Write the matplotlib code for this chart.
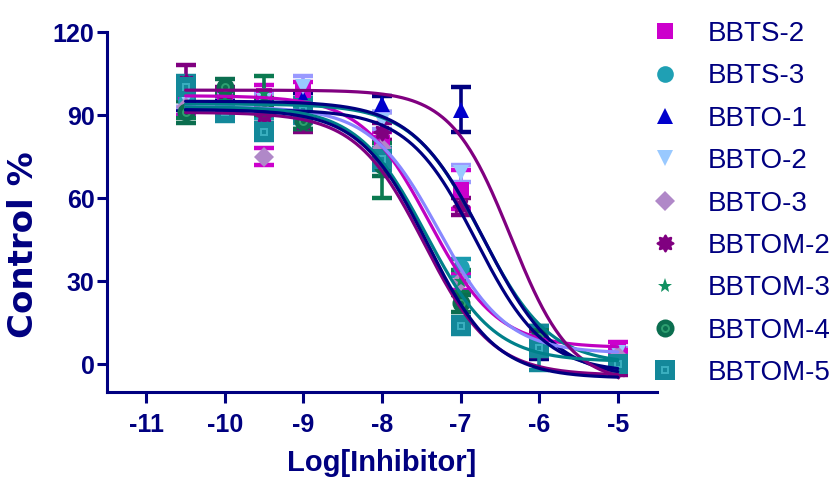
import numpy as np
import matplotlib
matplotlib.use("Agg")
import matplotlib.pyplot as plt
from matplotlib.path import Path
from matplotlib.lines import Line2D
from matplotlib.legend_handler import HandlerTuple

plt.rcParams['font.family'] = ['Liberation Sans', 'DejaVu Sans']

# ---------------- data ----------------
series = ['BBTS-2', 'BBTS-3', 'BBTO-1', 'BBTO-2', 'BBTO-3',
          'BBTOM-2', 'BBTOM-3', 'BBTOM-4', 'BBTOM-5']
log_conc = [-10.5, -10, -9.5, -9, -8, -7, -6, -5]

means = {
    'BBTS-2':  [98, 96, 97, 99, 80, 63, 8, 6],
    'BBTS-3':  [95, 93, 92, 90, 76, 35, 7, 1],
    'BBTO-1':  [94, 93, 94, 96, 94, 92, 5, 0],
    'BBTO-2':  [96, 95, 95, 100, 88, 69, 8, 4],
    'BBTO-3':  [93, 94, 75, 92, 78, 30, 6, 3],
    'BBTOM-2': [102, 97, 90, 87, 84, 57, 9, -2],
    'BBTOM-3': [92, 95, 98, 88, 70, 30, 8, 0],
    'BBTOM-4': [91, 100, 93, 88, 72, 22, 10, 0],
    'BBTOM-5': [100, 91, 84, 92, 74, 14, 6, 0],
}
sems = {
    'BBTS-2':  [3, 3, 4, 3, 4, 7, 3, 2],
    'BBTS-3':  [2, 2, 3, 3, 4, 3, 3, 2],
    'BBTO-1':  [2, 2, 2, 2, 3, 8, 3, 2],
    'BBTO-2':  [3, 3, 3, 4, 3, 3, 3, 2],
    'BBTO-3':  [3, 3, 3, 3, 3, 3, 3, 2],
    'BBTOM-2': [6, 3, 3, 3, 3, 3, 3, 2],
    'BBTOM-3': [3, 3, 6, 3, 10, 4, 5, 2],
    'BBTOM-4': [4, 3, 3, 3, 4, 3, 4, 2],
    'BBTOM-5': [4, 3, 3, 4, 4, 3, 8, 2],
}
# 4-parameter logistic fit parameters: top, bottom, logIC50, hill slope
fit_top     = [97, 94, 95, 93, 92, 99, 93, 91, 92]
fit_bottom  = [6, 0, -5, 4, -3, -7, 1, -4, -5]
fit_logic50 = [-7.40, -6.74, -6.70, -7.28, -6.80, -6.36, -7.44, -7.46, -7.42]
fit_hill    = [1.0, 1.0, 0.95, 1.0, 1.0, 1.14, 1.0, 1.0, 1.0]

y_ticks = [0, 30, 60, 90, 120]
x_ticks = [-11, -10, -9, -8, -7, -6, -5]

# ---------------- styles ----------------
navy = '#000080'
theta = np.linspace(0, 2 * np.pi, 161)
rr = 1 + 0.16 * np.cos(8 * theta)
flower = Path(np.column_stack([rr * np.cos(theta), rr * np.sin(theta)]))

marker_shape = ['s', 'o', '^', 'v', 'D', flower, '*', 'o', 's']
marker_size = [12, 12, 11, 12, 10, 13, 11, 13, 14]
marker_color = ['#CC00CC', '#1FA0B4', '#0000CC', '#99C9FF', '#B088C8',
                '#800080', '#109060', '#0B6E4F', '#13889A']
err_color = ['#CC00CC', '#1A9AAE', '#000080', '#9999FF', '#CC00CC',
             '#800080', '#0B7A50', '#0B6E4F', '#13889A']
curve_color = ['#C000C0', '#00808A', '#000080', '#8888FF', '#000080',
               '#800080', '#00808A', '#800080', '#000080']
inner_color = {7: '#2EA070', 8: '#3BB0C0'}

fig = plt.figure(figsize=(8.38, 4.78), dpi=100)
ax = fig.add_axes([107 / 838, 1 - 392 / 478, 550 / 838, 360 / 478])

xs = np.array(log_conc)
for i, name in enumerate(series):
    m = np.array(means[name], dtype=float)
    e = np.array(sems[name], dtype=float)
    ax.errorbar(xs, m, yerr=e, fmt='none', ecolor=err_color[i],
                elinewidth=2.6, capsize=7, capthick=3.2, zorder=2)
    ax.plot(xs, m, linestyle='none', marker=marker_shape[i],
            markersize=marker_size[i], color=marker_color[i],
            markeredgewidth=0, zorder=3)
    if i in inner_color:
        ax.plot(xs, m, linestyle='none', marker=marker_shape[i],
                markersize=5, markerfacecolor='none',
                markeredgecolor=inner_color[i], markeredgewidth=1.4, zorder=3)

xf = np.linspace(-10.5, -5, 300)
for i, name in enumerate(series):
    yf = fit_bottom[i] + (fit_top[i] - fit_bottom[i]) / (
        1 + 10 ** ((xf - fit_logic50[i]) * fit_hill[i]))
    ax.plot(xf, yf, color=curve_color[i], lw=2.3, zorder=4,
            solid_capstyle='round')

ax.set_xlim(-11.5, -4.5)
ax.set_ylim(-10, 120)
ax.set_xticks(x_ticks)
ax.set_yticks(y_ticks)
ax.set_xticklabels([str(t) for t in x_ticks])
for s in ['top', 'right']:
    ax.spines[s].set_visible(False)
for s in ['left', 'bottom']:
    ax.spines[s].set_color(navy)
    ax.spines[s].set_linewidth(2.2)
ax.tick_params(axis='both', colors=navy, width=2.2, labelsize=18)
ax.tick_params(axis='x', pad=7, length=8)
ax.tick_params(axis='y', pad=2, length=7)
for lab in ax.get_xticklabels() + ax.get_yticklabels():
    lab.set_fontweight('bold')
ax.set_xlabel('Log[Inhibitor]', fontsize=21, fontweight='bold', color=navy,
              labelpad=9)
ax.set_ylabel('Control %', fontsize=24.5, fontweight='bold', color=navy,
              family=['DejaVu Sans'])
ax.yaxis.set_label_coords(-0.121, 0.408)

# ---------------- legend ----------------
handles = []
for i in range(len(series)):
    h = Line2D([], [], linestyle='none', marker=marker_shape[i],
               markersize=marker_size[i], color=marker_color[i],
               markeredgewidth=0)
    if i in inner_color:
        h2 = Line2D([], [], linestyle='none', marker=marker_shape[i],
                    markersize=5, markerfacecolor='none',
                    markeredgecolor=inner_color[i], markeredgewidth=1.4)
        handles.append((h, h2))
    else:
        handles.append(h)
leg = fig.legend(handles, series, loc='upper left',
                 bbox_to_anchor=(651 / 838, 1 - 21 / 478),
                 frameon=False, fontsize=20, handlelength=1.0,
                 handletextpad=1.05, labelspacing=0.59, borderpad=0,
                 borderaxespad=0,
                 handler_map={tuple: HandlerTuple(ndivide=1, pad=0)})
for t in leg.get_texts():
    t.set_color(navy)

fig.savefig('out.png', dpi=100)
